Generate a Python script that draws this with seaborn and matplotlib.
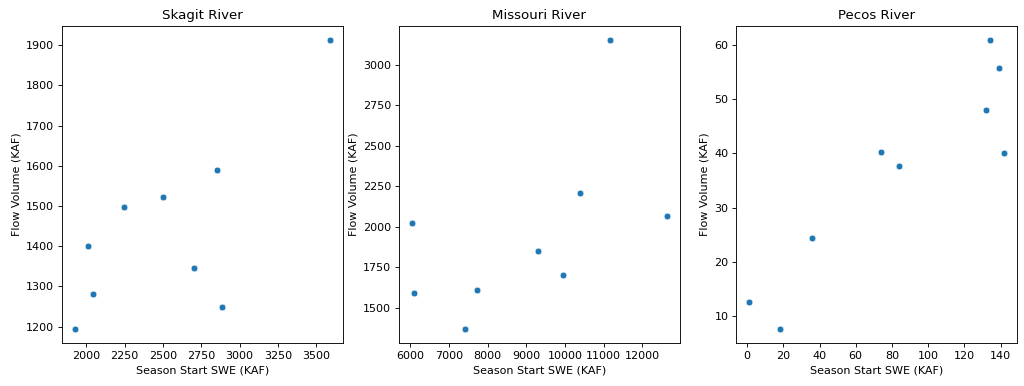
import matplotlib
matplotlib.use("Agg")
import matplotlib.pyplot as plt
import seaborn as sns
import pandas as pd

skagit_swe = [1925, 2010, 2045, 2245, 2500, 2700, 2850, 2885, 3590]
skagit_flow = [1195, 1400, 1282, 1497, 1522, 1345, 1590, 1248, 1912]

missouri_swe = [6035, 6100, 7400, 7720, 9300, 9960, 10400, 11170, 12645]
missouri_flow = [2020, 1590, 1370, 1610, 1850, 1700, 2210, 3150, 2065]

pecos_swe = [1, 18, 36, 74, 84, 132, 134, 139, 142]
pecos_flow = [12.6, 7.7, 24.4, 40.3, 37.7, 48.0, 60.8, 55.8, 40.0]

rivers = [
    ("Skagit River", skagit_swe, skagit_flow),
    ("Missouri River", missouri_swe, missouri_flow),
    ("Pecos River", pecos_swe, pecos_flow),
]

fig, axes = plt.subplots(1, 3, figsize=(12.8, 4.825), dpi=80)
fig.subplots_adjust(left=62 / 1024, right=1017 / 1024, top=1 - 26 / 386,
                    bottom=1 - 343 / 386, wspace=0.2)
for ax, (name, swe, flow) in zip(axes, rivers):
    df = pd.DataFrame({"swe": swe, "flow": flow})
    sns.scatterplot(data=df, x="swe", y="flow", ax=ax)
    ax.set_title(name)
    ax.set_xlabel("Season Start SWE (KAF)")
    ax.set_ylabel("Flow Volume (KAF)")

fig.savefig("out.png", dpi=80)
